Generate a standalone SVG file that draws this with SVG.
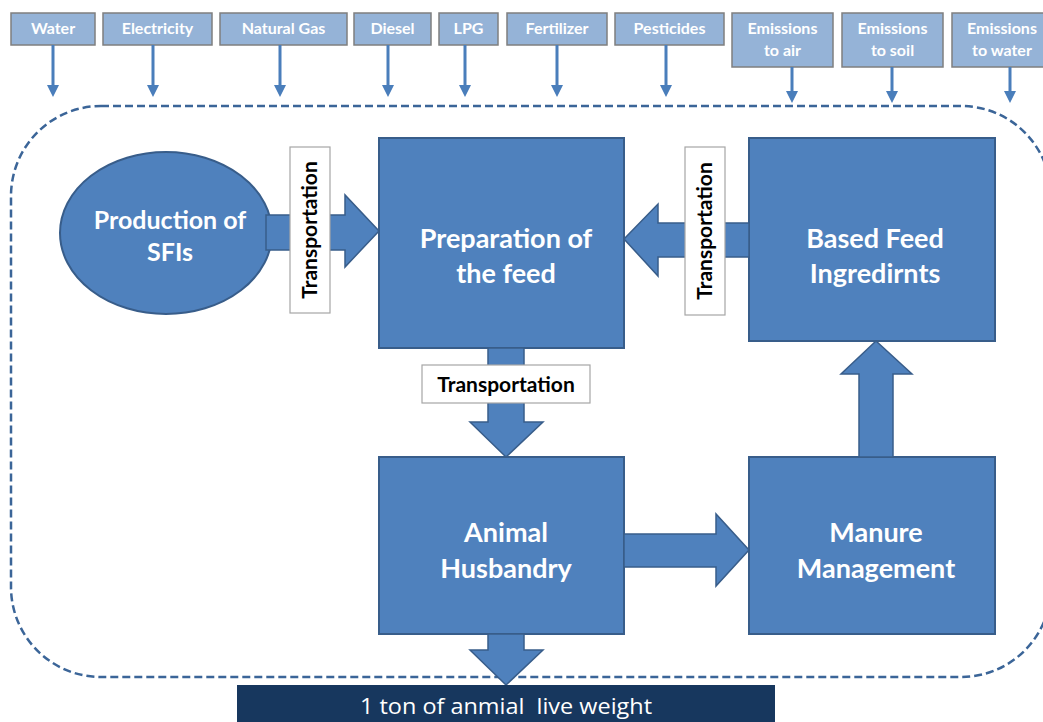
<svg xmlns="http://www.w3.org/2000/svg" width="1043" height="722" viewBox="0 0 1043 722">
<style>
.inbox{fill:#95B3D7;stroke:#7F7F7F;stroke-width:1.5}
.intxt{font-family:Lato,"Open Sans",sans-serif;font-weight:bold;font-size:16px;fill:#FFFFFF;text-anchor:middle}
.thin{fill:#4A7EBB}
.node{fill:#4F81BD;stroke:#385D8A;stroke-width:2}
.ntxt{font-family:Lato,"Open Sans",sans-serif;font-weight:bold;font-size:27px;fill:#FFFFFF;text-anchor:middle}
.big{fill:#4F81BD;stroke:#385D8A;stroke-width:1.5}
.tbox{fill:#FFFFFF;stroke:#A6A6A6;stroke-width:1.2}
.ttxt{font-family:Lato,"Open Sans",sans-serif;font-weight:bold;font-size:21px;fill:#000000;text-anchor:middle}
</style>
<rect width="1043" height="722" fill="#FFFFFF"/>

<!-- system boundary -->
<rect id="boundary" x="11" y="106" width="1040" height="571" rx="90" ry="90" fill="none" stroke="#3B6598" stroke-width="2.5" stroke-dasharray="8,4"/>

<!-- inputs / outputs -->
<g id="in-water"><rect class="inbox" x="11" y="13" width="84" height="32"/><text class="intxt" x="53" y="34">Water</text></g>
<g id="in-electricity"><rect class="inbox" x="103" y="13" width="109" height="32"/><text class="intxt" x="157.5" y="34">Electricity</text></g>
<g id="in-naturalgas"><rect class="inbox" x="220" y="13" width="127" height="32"/><text class="intxt" x="283.5" y="34">Natural Gas</text></g>
<g id="in-diesel"><rect class="inbox" x="354" y="13" width="77" height="32"/><text class="intxt" x="392.5" y="34">Diesel</text></g>
<g id="in-lpg"><rect class="inbox" x="439" y="13" width="59" height="32"/><text class="intxt" x="468.5" y="34">LPG</text></g>
<g id="in-fertilizer"><rect class="inbox" x="507" y="13" width="100" height="32"/><text class="intxt" x="557" y="34">Fertilizer</text></g>
<g id="in-pesticides"><rect class="inbox" x="615" y="13" width="109" height="32"/><text class="intxt" x="669.5" y="34">Pesticides</text></g>
<g id="out-air"><rect class="inbox" x="732" y="13" width="101" height="54"/><text class="intxt" x="782.5" y="34">Emissions</text><text class="intxt" x="782.5" y="56">to air</text></g>
<g id="out-soil"><rect class="inbox" x="842" y="13" width="101" height="54"/><text class="intxt" x="892.5" y="34">Emissions</text><text class="intxt" x="892.5" y="56">to soil</text></g>
<g id="out-water"><rect class="inbox" x="952" y="13" width="101" height="54"/><text class="intxt" x="1002" y="34">Emissions</text><text class="intxt" x="1002" y="56">to water</text></g>

<!-- main nodes -->
<g id="sfi"><ellipse class="node" cx="166" cy="233" rx="106" ry="81"/><text class="ntxt" x="170" y="229" style="font-size:25px">Production of</text><text class="ntxt" x="170" y="261" style="font-size:25px">SFIs</text></g>
<g id="prep"><rect class="node" x="379" y="138" width="245" height="210"/><text class="ntxt" x="506" y="248">Preparation of</text><text class="ntxt" x="506" y="283">the feed</text></g>
<g id="bfi"><rect class="node" x="749" y="138" width="246" height="203"/><text class="ntxt" x="875" y="248">Based Feed</text><text class="ntxt" x="875" y="283">Ingredirnts</text></g>
<g id="animal"><rect class="node" x="379" y="457" width="245" height="177"/><text class="ntxt" x="506" y="542">Animal</text><text class="ntxt" x="506" y="578">Husbandry</text></g>
<g id="manure"><rect class="node" x="749" y="457" width="246" height="177"/><text class="ntxt" x="876" y="542">Manure</text><text class="ntxt" x="876" y="578">Management</text></g>

<!-- connectors -->
<g id="connectors">
  <g class="thin">
    <path d="M51.5 45 H54.5 V85 H59 L53 97 L47 85 H51.5 Z"/>
    <path d="M151.5 45 H154.5 V85 H159 L153 97 L147 85 H151.5 Z"/>
    <path d="M278.5 45 H281.5 V85 H286 L280 97 L274 85 H278.5 Z"/>
    <path d="M386.5 45 H389.5 V85 H394 L388 97 L382 85 H386.5 Z"/>
    <path d="M463.5 45 H466.5 V85 H471 L465 97 L459 85 H463.5 Z"/>
    <path d="M555.5 45 H558.5 V85 H563 L557 97 L551 85 H555.5 Z"/>
    <path d="M664.5 45 H667.5 V85 H672 L666 97 L660 85 H664.5 Z"/>
    <path d="M790.5 67 H793.5 V91 H798 L792 103 L786 91 H790.5 Z"/>
    <path d="M890.5 67 H893.5 V91 H898 L892 103 L886 91 H890.5 Z"/>
    <path d="M1008.5 67 H1011.5 V91 H1016 L1010 103 L1004 91 H1008.5 Z"/>
  </g>
  <path id="a-sfi-prep" class="big" d="M266 215 H345 V195 L379 231 L345 267 V250 H266 Z"/>
  <path id="a-bfi-prep" class="big" d="M749 223 H658 V204 L624 239 L658 276 V257 H749 Z"/>
  <path id="a-prep-animal" class="big" d="M488 348 V422 H470 L506 457 L543 422 H524 V348 Z"/>
  <path id="a-animal-manure" class="big" d="M624 534 H716 V514 L749 550 L716 586 V567 H624 Z"/>
  <path id="a-manure-bfi" class="big" d="M859 457 V374 H841 L876 341 L912 374 H893 V457 Z"/>
  <path id="a-animal-out" class="big" d="M488 634 V650 H470 L506 685 L543 650 H524 V634 Z"/>
  <g id="t1"><rect class="tbox" x="290" y="147" width="40" height="166"/><text class="ttxt" transform="translate(317 230) rotate(-90)">Transportation</text></g>
  <g id="t2"><rect class="tbox" x="685" y="147" width="40" height="168"/><text class="ttxt" transform="translate(712 231) rotate(-90)">Transportation</text></g>
  <g id="t3"><rect class="tbox" x="422" y="365" width="168" height="38"/><text class="ttxt" x="506" y="392">Transportation</text></g>
</g>

<g id="output"><rect x="237" y="685" width="538" height="40" fill="#17375E"/><text x="506" y="714" font-family="'Open Sans',sans-serif" font-size="22px" fill="#FFFFFF" text-anchor="middle" textLength="292" lengthAdjust="spacingAndGlyphs" xml:space="preserve">1 ton of anmial  live weight</text></g>
</svg>
